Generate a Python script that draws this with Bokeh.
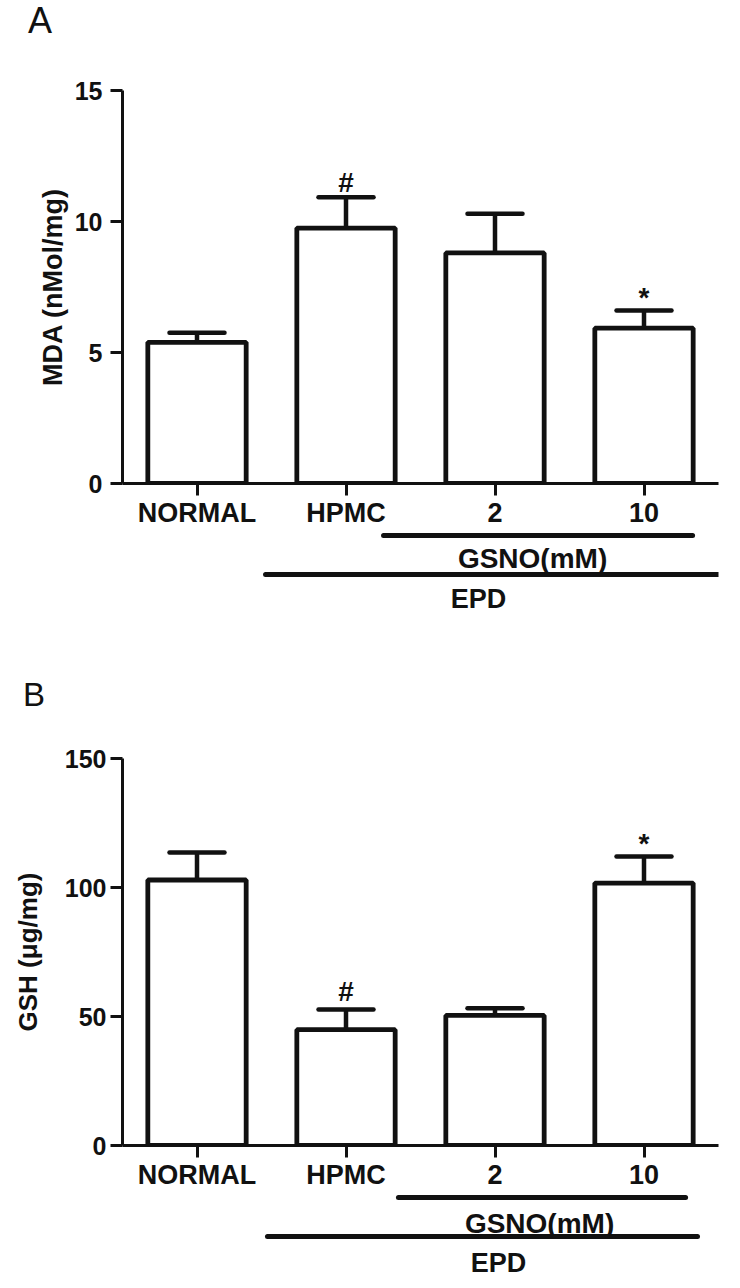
import numpy as np
from bokeh.plotting import figure
from bokeh.models import (ColumnDataSource, FactorRange, Range1d, Whisker, TeeHead,
                          LabelSet, FixedTicker, Div)
from bokeh.layouts import column
from bokeh.embed import file_html
from bokeh.resources import INLINE
from bokeh.core.properties import value

# ---------------- data ----------------
groups = ["NORMAL", "HPMC", "2", "10"]

mda_mean = [5.39, 9.75, 8.80, 5.93]
mda_sem = [0.36, 1.18, 1.50, 0.67]
mda_marks = ["", "#", "", "*"]
mda_ticks = [0, 5, 10, 15]

gsh_mean = [102.9, 44.9, 50.4, 101.7]
gsh_sem = [10.7, 7.8, 2.8, 10.3]
gsh_marks = ["", "#", "", "*"]
gsh_ticks = [0, 50, 100, 150]

sub_labels = ["GSNO(mM)", "EPD"]

# ---------------- style / layout ----------------
FONT = "Liberation Sans"
INK = "#111111"
W = 740
LEFT = 122
RIGHT = 22


def letter_div(letter, size, line_h, pad_left, height):
    return Div(text=letter, width=W, height=height, margin=0,
               styles={"font-family": FONT, "font-size": f"{size}px",
                       "line-height": f"{line_h}px", "font-weight": "normal",
                       "color": INK, "padding-left": f"{pad_left}px",
                       "box-sizing": "border-box", "background": "white",
                       "overflow": "visible"})


def main_panel(ylabel, means, sems, marks, ticks,
               height, top, bottom, ylabel_size, ylabel_standoff, tick_standoff,
               x_standoff, mark_offsets):
    upper = list(np.array(means) + np.array(sems))
    src = ColumnDataSource(dict(g=groups, mean=means, upper=upper, mark=marks,
                                off=[mark_offsets.get(m, 0) for m in marks]))
    p = figure(width=W, height=height,
               x_range=FactorRange(factors=groups, range_padding=0),
               y_range=Range1d(ticks[0], ticks[-1]),
               output_backend="svg", toolbar_location=None,
               min_border_left=LEFT, min_border_right=RIGHT,
               min_border_top=top, min_border_bottom=bottom)
    p.outline_line_color = None
    p.grid.visible = False
    p.background_fill_color = "white"
    p.border_fill_color = "white"

    for ax in (p.xaxis[0], p.yaxis[0]):
        ax.axis_line_width = 3
        ax.axis_line_color = INK
        ax.major_tick_line_width = 3
        ax.major_tick_line_color = INK
        ax.major_tick_out = 12
        ax.major_tick_in = 0
        ax.minor_tick_out = 0
        ax.minor_tick_in = 0
        ax.major_label_text_font = FONT
        ax.major_label_text_font_style = "bold"
        ax.major_label_text_color = INK

    yax = p.yaxis[0]
    yax.ticker = FixedTicker(ticks=ticks)
    yax.major_label_text_font_size = "25px"
    yax.major_label_standoff = tick_standoff
    yax.axis_label = ylabel
    yax.axis_label_text_font = FONT
    yax.axis_label_text_font_style = "bold"
    yax.axis_label_text_font_size = ylabel_size
    yax.axis_label_text_color = INK
    yax.axis_label_standoff = ylabel_standoff

    xax = p.xaxis[0]
    xax.major_label_text_font_size = "27px"
    xax.major_label_standoff = x_standoff
    xax.major_label_orientation = "horizontal"

    p.vbar(x="g", top="mean", bottom=0, width=0.66, source=src,
           fill_color="white", line_color=INK, line_width=4.8)

    wh = Whisker(source=src, base="g", lower="mean", upper="upper", dimension="height",
                 line_color=INK, line_width=4.5, level="glyph",
                 upper_head=TeeHead(size=55, line_color=INK, line_width=4.5,
                                    line_cap="round"),
                 lower_head=None)
    p.add_layout(wh)

    labels = LabelSet(x="g", y="upper", text="mark", source=src, y_offset="off",
                      text_align="center", text_baseline="alphabetic",
                      text_font=value(FONT), text_font_style="bold",
                      text_font_size="28px", text_color=INK)
    p.add_layout(labels)
    return p


def bracket_panel(height, gsno, epd, gsno_text, epd_text):
    q = figure(width=W, height=height, x_range=Range1d(0, 4),
               y_range=Range1d(height, 0),
               x_axis_location=None, y_axis_location=None,
               output_backend="svg", toolbar_location=None,
               min_border_left=LEFT, min_border_right=RIGHT,
               min_border_top=0, min_border_bottom=0)
    q.outline_line_color = None
    q.grid.visible = False
    q.background_fill_color = "white"
    q.border_fill_color = "white"
    q.segment(x0=[gsno[0], epd[0]], x1=[gsno[1], epd[1]],
              y0=[gsno[2], epd[2]], y1=[gsno[2], epd[2]],
              line_width=5, line_color=INK, line_cap="round")
    q.text(x=[gsno_text[0], epd_text[0]], y=[gsno_text[1], epd_text[1]], text=sub_labels,
           text_align="center", text_baseline="middle",
           text_font=value(FONT), text_font_style="bold",
           text_font_size=["28px", "27px"], text_color=INK)
    return q


da = letter_div("A", 36, 41, 28, 41)
pa = main_panel("MDA (nMol/mg)", mda_mean, mda_sem, mda_marks, mda_ticks,
                height=489, top=49, bottom=46,
                ylabel_size="27px", ylabel_standoff=4, tick_standoff=8, x_standoff=2,
                mark_offsets={"#": 5, "*": 3.5})
qa = bracket_panel(146, gsno=(1.752, 3.826, 5), epd=(0.960, 4.0, 44),
                   gsno_text=(2.752, 28), epd_text=(2.389, 68))

db = letter_div("B", 33, 38, 23, 42)
pb = main_panel("GSH (\u03bcg/mg)", gsh_mean, gsh_sem, gsh_marks, gsh_ticks,
                height=474, top=40, bottom=42,
                ylabel_size="26px", ylabel_standoff=19, tick_standoff=4, x_standoff=2,
                mark_offsets={"#": 9, "*": 4})
qb = bracket_panel(96, gsno=(1.852, 3.779, 5), epd=(0.973, 3.859, 44),
                   gsno_text=(2.799, 31), epd_text=(2.523, 70))

layout = column(da, pa, qa, db, pb, qb, spacing=0)
open("out.html", "w").write(file_html(layout, INLINE))
